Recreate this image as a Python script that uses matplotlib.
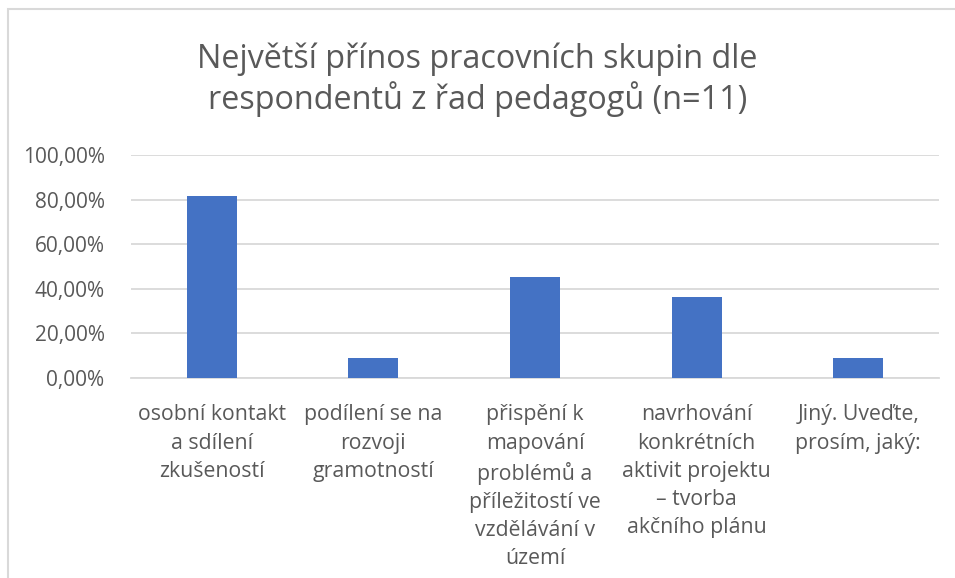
import matplotlib.pyplot as plt
from matplotlib.patches import Rectangle
from matplotlib.ticker import FuncFormatter

categories = [
    "osobní kontakt\na sdílení\nzkušeností",
    "podílení se na\nrozvoji\ngramotností",
    "přispění k\nmapování\nproblémů a\npříležitostí ve\nvzdělávání v\núzemí",
    "navrhování\nkonkrétních\naktivit projektu\n– tvorba\nakčního plánu",
    "Jiný. Uveďte,\nprosím, jaký:",
]
shares = [0.8182, 0.0909, 0.4545, 0.3636, 0.0909]
yticks = [0.0, 0.2, 0.4, 0.6, 0.8, 1.0]

TEXT = "#595959"
GRID = "#D9D9D9"
BLUE = "#4472C4"

plt.rcParams['font.family'] = ['Open Sans', 'DejaVu Sans']

W, H = 955, 578
fig = plt.figure(figsize=(W / 100, H / 100), dpi=100)

# chart border (runs off right and bottom edge)
fig.patches.append(Rectangle((8 / W, -0.1), 1.2, 1 - 9 / H + 0.1,
                             transform=fig.transFigure, fill=False,
                             edgecolor=GRID, linewidth=1.5))

ax = fig.add_axes([131 / W, 1 - 378 / H, (939 - 131) / W, (378 - 155) / H])
x = range(len(categories))
ax.bar(x, shares, width=0.31, color=BLUE, zorder=3)

ax.set_xlim(-0.5, len(categories) - 0.5)
ax.set_ylim(0, 1.0)
ax.set_yticks(yticks)
ax.yaxis.set_major_formatter(FuncFormatter(lambda v, p: f"{v * 100:.2f}%".replace(".", ",")))
ax.set_xticks(list(x))
ax.set_xticklabels(categories, linespacing=1.45, fontsize=15.3)
ax.tick_params(axis='both', length=0, colors=TEXT)
ax.tick_params(axis='y', labelsize=15, pad=19)
ax.tick_params(axis='x', pad=19)
ax.grid(axis='y', color=GRID, linewidth=1.3, zorder=0)
for s in ['top', 'right', 'left']:
    ax.spines[s].set_visible(False)
ax.spines['bottom'].set_color(GRID)
ax.spines['bottom'].set_linewidth(1.3)

fig.text(0.5, 1 - 80 / H, "Největší přínos pracovních skupin dle\nrespondentů z řad pedagogů (n=11)",
         ha='center', va='center', fontsize=23.3, color=TEXT, linespacing=1.2)

fig.savefig("out.png", dpi=100)
